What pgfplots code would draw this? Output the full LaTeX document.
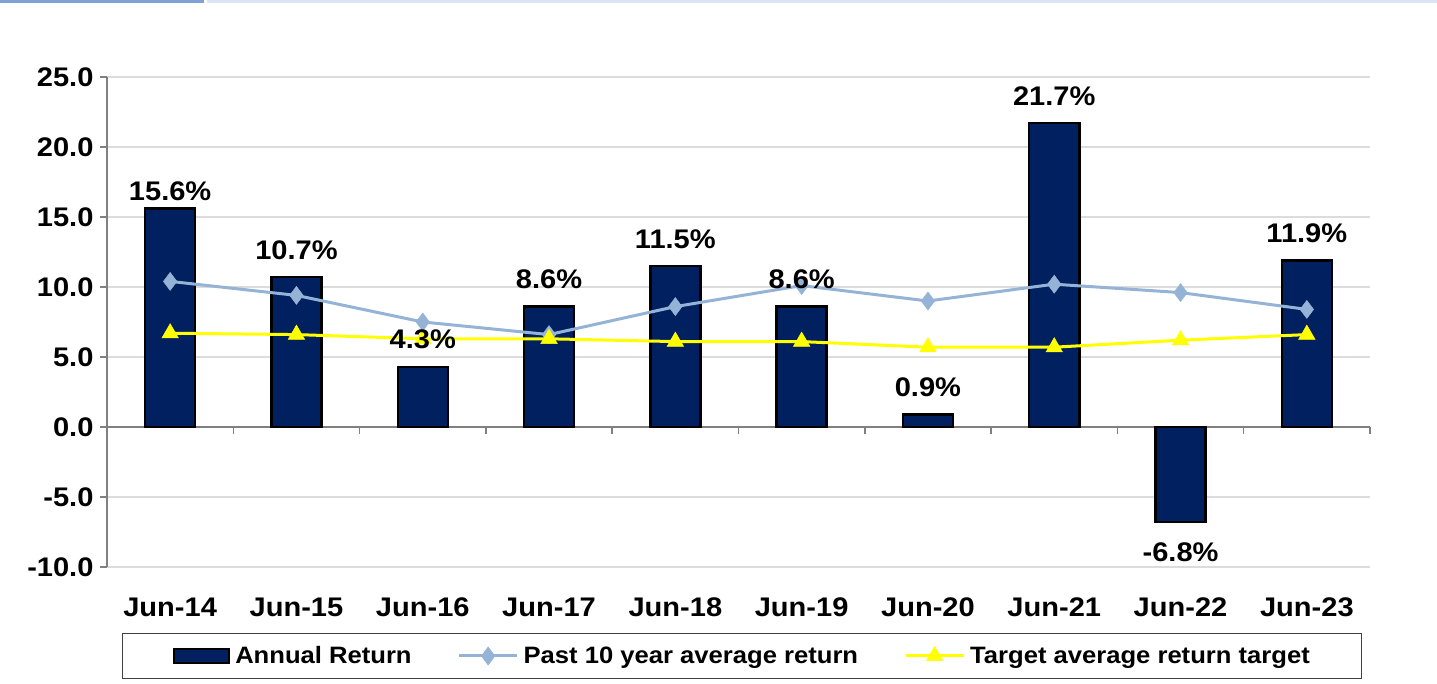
\documentclass[border=0pt]{standalone}
\usepackage{fontspec}
\setmainfont{Liberation Sans}[FakeStretch=1.08]
\usepackage{pgfplots}
\pgfplotsset{compat=1.18}
\definecolor{navy}{HTML}{002060}
\definecolor{lblue}{HTML}{95B3D7}
\definecolor{yel}{HTML}{FFFF00}
\definecolor{topblue}{HTML}{7FA1D6}
\definecolor{toplight}{HTML}{DCE6F2}
\definecolor{gridgray}{HTML}{DCDCDC}
\definecolor{axgray}{HTML}{808080}
\pgfplotsset{
  my line legend/.style={legend image code/.code={\draw[mark repeat=2,mark phase=2,##1] plot coordinates {(0bp,0bp) (29bp,0bp) (58bp,0bp)};}},
  my bar legend/.style={legend image code/.code={\draw[fill=navy, draw=black, line width=2.5bp] (0bp,-7bp) rectangle (55bp,7bp);}},
  my labels/.style={ybar, bar width=50bp, bar shift=0pt, draw=none, fill=none, forget plot,
    nodes near coords={\pgfmathprintnumber[fixed,fixed zerofill,precision=1]{\pgfplotspointmeta}\%},
    nodes near coords align={vertical},
    every node near coord/.append style={font=\fontsize{27}{30}\selectfont\bfseries, black, yshift=#1}},
}

\begin{document}
\begin{tikzpicture}[x=1bp,y=1bp]
\useasboundingbox (0,0) rectangle (1437,684);
\fill[topblue] (0,681) rectangle (204,684);
\fill[toplight] (207,681) rectangle (1437,684);
\begin{axis}[
  at={(107bp,117bp)}, anchor=south west,
  scale only axis, width=1263bp, height=490bp,
  xmin=-0.5, xmax=9.5, ymin=-10, ymax=25,
  xtick={0,...,9},
  xticklabels={Jun-14,Jun-15,Jun-16,Jun-17,Jun-18,Jun-19,Jun-20,Jun-21,Jun-22,Jun-23},
  ytick={-10,-5,0,5,10,15,20,25},
  axis y line*=left,
  x axis line style={draw=none},
  y axis line style={axgray, line width=1.5bp},
  ytick style={axgray, line width=1.5bp},
  xtick style={draw=none},
  major tick length=7bp, tick align=outside,
  ymajorgrids, grid style={color=gridgray, line width=1.5bp},
  /pgf/number format/assume math mode=true,
  yticklabel={\pgfmathprintnumber[fixed,fixed zerofill,precision=1]{\tick}},
  tick label style={font=\fontsize{27}{30}\selectfont\bfseries},
  yticklabel style={xshift=-3bp},
  xticklabel style={yshift=-20bp},
  clip=false,
  legend columns=3,
  legend style={at={(0.503,-0.1816)}, anchor=center, draw=black!75, line width=1.2bp,
    font=\fontsize{23.8}{26}\selectfont\bfseries, inner xsep=50bp, inner ysep=11bp,
    /tikz/every even column/.append style={column sep=44bp}},
]
\draw[axgray, line width=2bp] (axis cs:-0.5,0) -- (axis cs:9.5,0);
\draw[axgray, line width=1.5bp] (axis cs:0.5,0) -- ([yshift=-7bp]axis cs:0.5,0);
\draw[axgray, line width=1.5bp] (axis cs:1.5,0) -- ([yshift=-7bp]axis cs:1.5,0);
\draw[axgray, line width=1.5bp] (axis cs:2.5,0) -- ([yshift=-7bp]axis cs:2.5,0);
\draw[axgray, line width=1.5bp] (axis cs:3.5,0) -- ([yshift=-7bp]axis cs:3.5,0);
\draw[axgray, line width=1.5bp] (axis cs:4.5,0) -- ([yshift=-7bp]axis cs:4.5,0);
\draw[axgray, line width=1.5bp] (axis cs:5.5,0) -- ([yshift=-7bp]axis cs:5.5,0);
\draw[axgray, line width=1.5bp] (axis cs:6.5,0) -- ([yshift=-7bp]axis cs:6.5,0);
\draw[axgray, line width=1.5bp] (axis cs:7.5,0) -- ([yshift=-7bp]axis cs:7.5,0);
\draw[axgray, line width=1.5bp] (axis cs:8.5,0) -- ([yshift=-7bp]axis cs:8.5,0);
\draw[axgray, line width=1.5bp] (axis cs:9.5,0) -- ([yshift=-7bp]axis cs:9.5,0);
\addplot[ybar, bar width=50bp, bar shift=0pt, fill=navy, draw=black, line width=2.5bp, my bar legend]
  coordinates {(0,15.6) (1,10.7) (2,4.3) (3,8.6) (4,11.5) (5,8.6) (6,0.9) (7,21.7) (8,-6.8) (9,11.9)};
\addlegendentry{\hspace{3bp}Annual Return}
\addplot[lblue, line width=3bp, mark=diamond*, mark size=9bp, mark options={fill=lblue, draw=lblue, line width=0.5bp}, my line legend]
  coordinates {(0,10.4) (1,9.4) (2,7.5) (3,6.6) (4,8.6) (5,10.1) (6,9.0) (7,10.2) (8,9.6) (9,8.4)};
\addlegendentry{\hspace{3bp}Past 10 year average return}
\addplot[yel, line width=3bp, mark=triangle*, mark size=9.5bp, mark options={fill=yel, draw=yel, line width=0.5bp}, my line legend]
  coordinates {(0,6.7) (1,6.6) (2,6.3) (3,6.3) (4,6.1) (5,6.1) (6,5.7) (7,5.7) (8,6.2) (9,6.6)};
\addlegendentry{\hspace{3bp}Target average return target\hspace{30bp}}
\addplot[my labels=14bp]
  coordinates {(1,10.7) (2,4.3) (3,8.6) (4,11.5) (5,8.6) (6,0.9) (7,21.7) (9,11.9)};
\addplot[my labels=4bp] coordinates {(0,15.6)};
\addplot[my labels=-17bp] coordinates {(8,-6.8)};
\end{axis}
\end{tikzpicture}
\end{document}
